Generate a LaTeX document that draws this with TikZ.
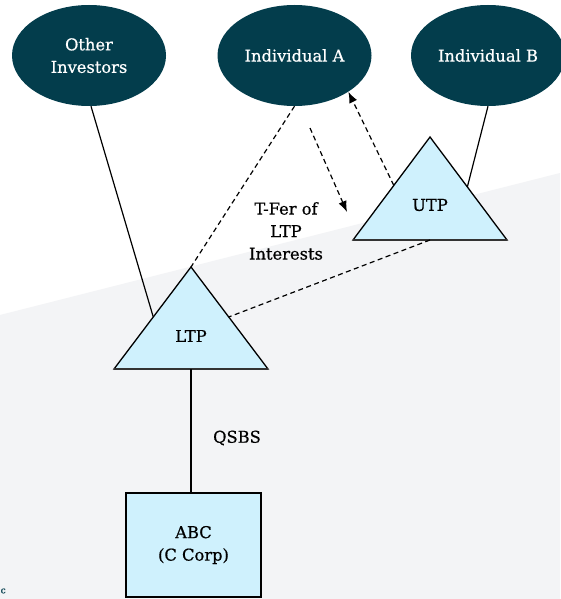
\documentclass[tikz,border=0pt]{standalone}
\usepackage{fontspec}
\setmainfont{DejaVu Serif}[FakeBold=0.6]
\usetikzlibrary{arrows.meta,calc,shapes.geometric}
\definecolor{teal0}{HTML}{033D4C}
\definecolor{cyanf}{HTML}{CFF1FD}
\definecolor{bggrey}{HTML}{F3F4F6}
\begin{document}
\begin{tikzpicture}[x=1pt,y=-1pt,
  font=\fontsize{16.3}{22.5}\selectfont,
  person/.style={ellipse, fill=teal0, text=white, minimum width=154pt, minimum height=101pt, inner sep=0pt, align=center},
  tri/.style={fill=cyanf, draw=black, line width=1.3pt, line join=miter},
  boxnode/.style={rectangle, fill=cyanf, draw=black, line width=1.3pt, minimum width=135pt, minimum height=104pt, inner sep=0pt, align=center},
  conn/.style={line width=1.2pt},
  dashconn/.style={conn, dash pattern=on 5pt off 3.5pt},
  arr/.style={-{Latex[length=11pt,width=8.5pt]}},
  lbl/.style={align=center, text=black, inner sep=0pt}]
\useasboundingbox (0,0) rectangle (560,599);
\fill[white] (0,0) rectangle (560,599);
\fill[bggrey] (0,315) -- (560,173) -- (560,599) -- (0,599) -- cycle;

% persons
\node[person] (oi) at (89,55.5) {Other\\Investors};
\node[person] (ia) at (294.5,55.5) {Individual A};
\node[person] (ib) at (488,55.5) {Individual B};

% LTP triangle
\coordinate (ltpA) at (191,267);
\coordinate (ltpL) at (114,369);
\coordinate (ltpR) at (268,369);
\coordinate (ltpB) at (191,369);
\filldraw[tri] (ltpA) -- (ltpR) -- (ltpL) -- cycle;
\draw[line width=1.7pt, black!80] (ltpL) -- (ltpR);
\node[lbl] (ltp) at (191,336) {LTP};

% UTP triangle
\coordinate (utpA) at (430,137);
\coordinate (utpL) at (353,240);
\coordinate (utpR) at (507,240);
\coordinate (utpB) at (430,240);
\filldraw[tri] (utpA) -- (utpR) -- (utpL) -- cycle;
\draw[line width=1.7pt, black!80] (utpL) -- (utpR);
\node[lbl] (utp) at (430,205) {UTP};

% ABC box
\node[boxnode] (abc) at (193.5,545) {ABC\\(C Corp)};

% connectors
\draw[conn] (oi.south) ++(2,0) coordinate (oiS) -- ($(ltpA)!0.49!(ltpL)$);
\draw[dashconn] (ia.south) -- (ltpA);
\draw[conn] (ib.south) -- ($(utpA)!0.485!(utpR)$);
\draw[dashconn, arr] ($(utpA)!0.47!(utpL)$) -- (ia.-34);
\coordinate (tfS) at (310,128);
\coordinate (tfE) at (347,212);
\draw[dashconn, arr] (tfS) -- (tfE);
\draw[dashconn] (utpB) -- ($(ltpA)!0.49!(ltpR)$);
\draw[conn] (ltpB) -- (ltpB |- abc.north);

% labels
\node[lbl] (tfer) at (286,231) {T-Fer of\\LTP\\Interests};
\node[lbl] (qsbs) at (237,438) {QSBS};
\node[text=teal0, inner sep=0pt, anchor=west, font=\fontsize{9}{9}\selectfont] (cfrag) at (0.5,591) {c};
\end{tikzpicture}
\end{document}
